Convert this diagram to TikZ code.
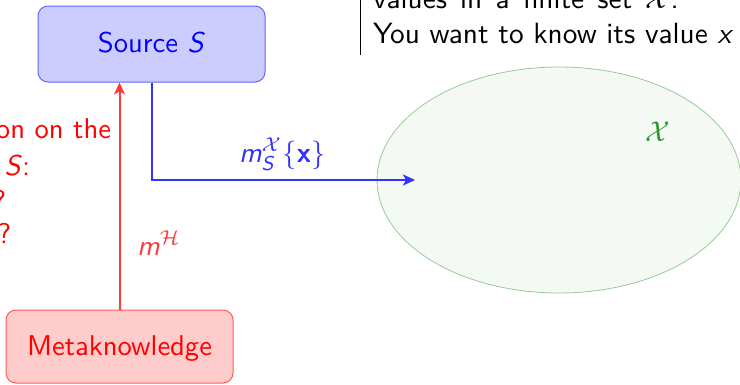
\RequirePackage{fix-cm}
\documentclass[tikz,border=0pt]{standalone}
\usepackage{amsmath}
\usepackage{graphicx}
\usetikzlibrary{shapes.geometric,arrows.meta}
\definecolor{ellfill}{RGB}{244,249,244}
\definecolor{elldraw}{RGB}{150,205,150}
\definecolor{xgreen}{RGB}{40,150,40}
\definecolor{srcfill}{RGB}{204,204,255}
\definecolor{srcdraw}{RGB}{100,100,255}
\definecolor{metafill}{RGB}{255,204,204}
\definecolor{metadraw}{RGB}{255,90,90}
\definecolor{bluearr}{RGB}{50,50,255}
\definecolor{redarr}{RGB}{255,60,60}
\newcommand{\zz}[1]{\scalebox{2.86}{#1}}
\newcommand{\zt}[1]{\scalebox{2.93}{#1}}
\begin{document}
\begin{tikzpicture}[x=1pt,y=-1pt,
  font=\fontsize{10}{12}\selectfont\sffamily,
  boxstyle/.style={draw, rounded corners=10pt, line width=1pt,
    minimum width=227pt, text height=20pt, text depth=3pt, inner sep=0pt},
  arr/.style={line width=2pt, -{Stealth[length=12pt,width=11pt,inset=3pt]}},
  lbl/.style={inner sep=0pt, outer sep=0pt}]
\useasboundingbox (0,0) rectangle (740,384);
\clip (0,0) rectangle (740,384);
% ellipse
\node (X) [ellipse, draw=elldraw, fill=ellfill, line width=0.8pt,
  minimum width=364pt, minimum height=226pt, inner sep=0pt] at (559,180) {};
\node (Xl) [lbl, anchor=base, text=xgreen] at (658,141) {\zz{$\mathcal{X}$}};
% boxes
\node (src) [boxstyle, draw=srcdraw, fill=srcfill, text=blue, minimum height=76pt] at (151.5,44) {\zz{Source \textit{S}}};
\node (meta) [boxstyle, draw=metadraw, fill=metafill, text=red, minimum height=73pt] at (119.5,346.5) {\zz{Metaknowledge}};
% connectors
\coordinate (tipX) at (415,180);
\draw[arr, bluearr] (src.south) |- (tipX);
\draw[arr, redarr] (meta.north) -- (meta.north |- src.south);
% connector labels
\node (mx) [lbl, anchor=base west, text=bluearr] at (239,162) {\zz{$\textit{m}^{\mathcal{X}}_{\textit{S}}\{\textbf{x}\}$}};
\node (mh) [lbl, anchor=base west, text=redarr] at (137,255) {\zz{$\textit{m}^{\mathcal{H}}$}};
% left red text (cut)
\node (l1) [lbl, anchor=base east, text=red] at (111,138) {\zz{Information on the}};
\node (l2) [lbl, anchor=base east, text=red] at (30,175) {\zz{source \textit{S}:}};
\node (l3) [lbl, anchor=base east, text=red] at (6,210) {\zz{?}};
\node (l4) [lbl, anchor=base east, text=red] at (11,243) {\zz{?}};
% top right text
\coordinate (vt) at (360.5,0);
\coordinate (vb) at (360.5,55);
\draw[line width=0.9pt] (vt) -- (vb);
\node (t1) [lbl, anchor=base west] at (373,8) {\zt{\spaceskip=4.5pt values in a finite set $\mathcal{X}$.}};
\node (t2) [lbl, anchor=base west] at (373,43) {\zt{You want to know its value \textit{x}}};
\end{tikzpicture}
\end{document}
